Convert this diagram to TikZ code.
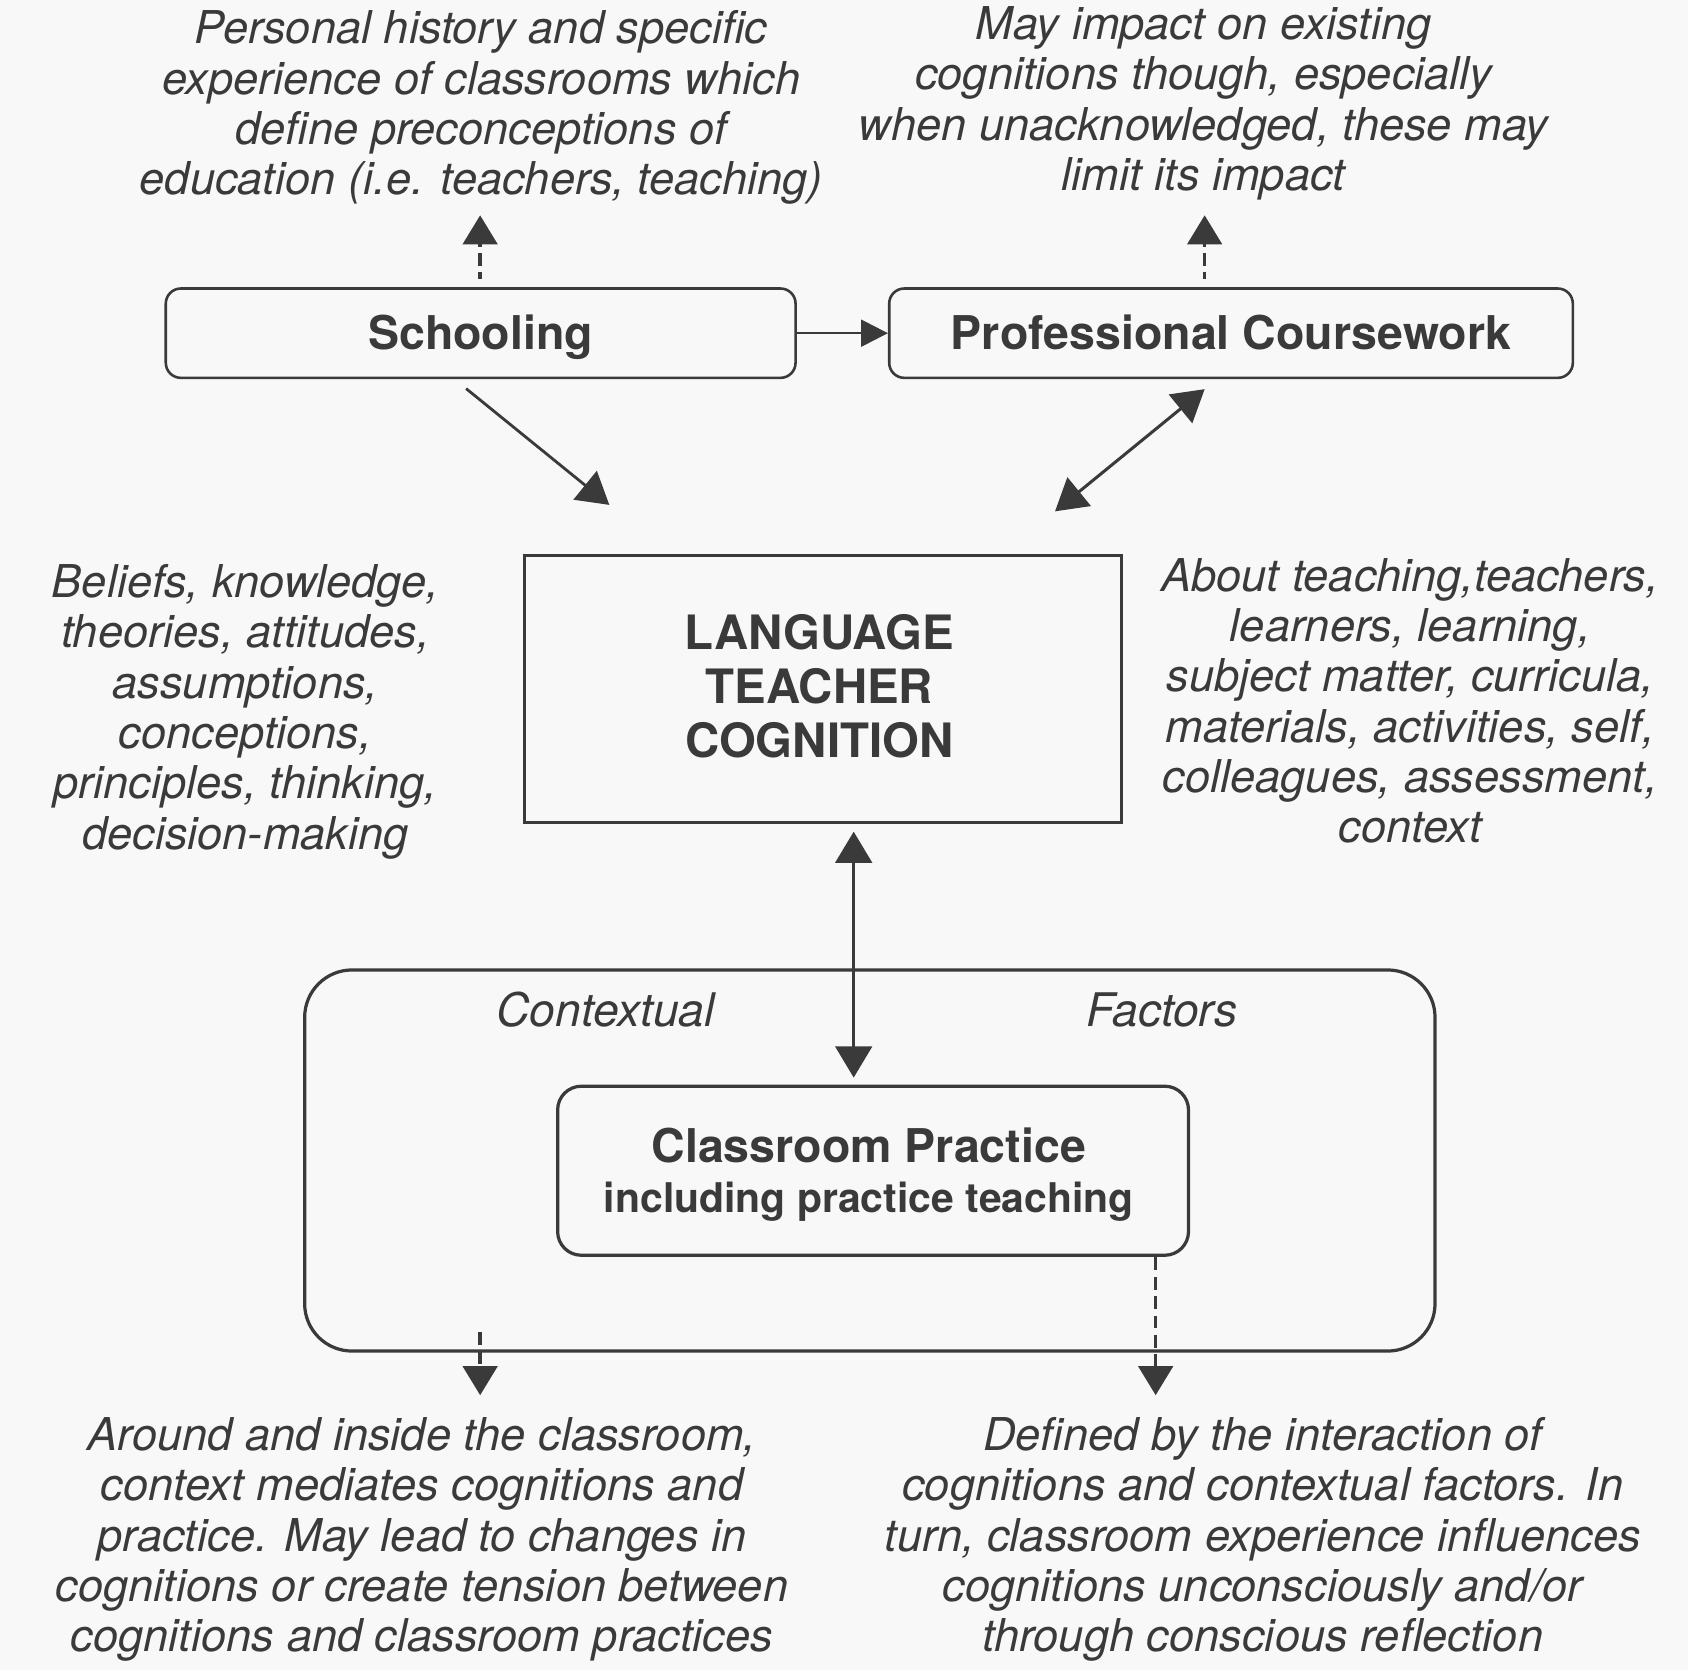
\documentclass[tikz,border=0pt]{standalone}
\usepackage{fontspec}
\setmainfont{TeX Gyre Heros}
\usetikzlibrary{arrows.meta}
\definecolor{ink}{HTML}{3A3A3A}
\definecolor{bgc}{HTML}{F8F8F8}
\begin{document}
\begin{tikzpicture}[x=0.5pt,y=-0.5pt,
  box/.style={draw=ink, line width=1.2pt, rounded corners=7pt, inner sep=0pt, text=ink,
    font=\bfseries\fontsize{21.6}{23}\selectfont},
  itxt/.style={text=ink, align=center, inner sep=0pt, font=\itshape\fontsize{21}{23.4}\selectfont},
  arrbig/.style={draw=ink, line width=1.3pt, -{Triangle[length=14.5pt,width=17pt]}},
  arrboth/.style={draw=ink, line width=1.4pt, {Triangle[length=14.5pt,width=17pt]}-{Triangle[length=14.5pt,width=17pt]}},
  arrsmall/.style={draw=ink, line width=1.2pt, -{Triangle[length=12.5pt,width=12.5pt]}},
  darr/.style={draw=ink, line width=1.6pt, dash pattern=on 6pt off 3pt, -{Triangle[length=13.5pt,width=16pt]}}
]
\fill[bgc] (0,0) rectangle (1568,1551);
\useasboundingbox (0,0) rectangle (1568,1551);

% boxes
\node[box, minimum width=292.5pt, minimum height=41.5pt, text height=19.6pt, text depth=4.4pt] (school) at (446.5,309.5) {Schooling};
\node[box, minimum width=317.5pt, minimum height=41.5pt, text height=19.6pt, text depth=4.4pt] (prof) at (1143.5,309.5) {Professional Coursework};
\node[box, rounded corners=0pt, line width=1.5pt, minimum width=277.5pt, minimum height=124pt] (ltc) at (764.5,640) {};
\node[text=ink, inner sep=0pt, align=center, font=\bfseries\fontsize{22}{25}\selectfont] (ltcT) at (761,637.5) {LANGUAGE\\TEACHER\\COGNITION};
\node[draw=ink, line width=1.5pt, rounded corners=22pt, minimum width=525pt, minimum height=177pt, inner sep=0pt] (ctx) at (808,1078) {};
\node[box, line width=1.5pt, rounded corners=11pt, minimum width=293pt, minimum height=78.5pt] (cls) at (811,1087.5) {};
\node[text=ink, inner sep=0pt, align=center, font=\bfseries\fontsize{21.6}{23}\selectfont] (clsT) at (807,1091)
  {Classroom Practice\\{\fontsize{19}{23}\selectfont including practice teaching}};

% labels
\node[itxt] (tl) at (447,100) {Personal history and specific\\experience of classrooms which\\define preconceptions of\\education (i.e. teachers, teaching)};
\node[itxt] (tr) at (1118,96) {May impact on existing\\cognitions though, especially\\when unacknowledged, these may\\limit its impact};
\node[itxt] (lt) at (228,661) {Beliefs, knowledge,\\theories, attitudes,\\assumptions,\\conceptions,\\principles, thinking,\\decision-making};
\node[itxt] (rt) at (1310,651) {About teaching,teachers,\\learners, learning,\\subject matter, curricula,\\materials, activities, self,\\colleagues, assessment,\\context};
\node[itxt] (bl) at (392,1430) {Around and inside the classroom,\\context mediates cognitions and\\practice. May lead to changes in\\cognitions or create tension between\\cognitions and classroom practices};
\node[itxt] (br) at (1173,1430) {Defined by the interaction of\\cognitions and contextual factors. In\\turn, classroom experience influences\\cognitions unconsciously and/or\\through conscious reflection};
\node[itxt, font=\itshape\fontsize{21.5}{24}\selectfont] (ctxA) at (562.5,938) {Contextual};
\node[itxt, font=\itshape\fontsize{21.5}{24}\selectfont] (ctxB) at (1079,938) {Factors};

% connector end points
\coordinate (d1s) at (433,361);
\coordinate (d1e) at (566,469);
\coordinate (d2a) at (1119,361.5);
\coordinate (d2b) at (980,475);
\coordinate (v1) at (793,772.5);
\coordinate (v2) at (793,1001);
\coordinate (tlS) at (446,259);
\coordinate (tlT) at (446,200);
\coordinate (trS) at (1119,259);
\coordinate (trT) at (1119,200);
\coordinate (blS) at (446,1237);
\coordinate (blT) at (446,1296);
\coordinate (brS) at (1073.5,1168);
\coordinate (brT) at (1073.5,1296);

% connectors
\draw[arrsmall] (school.east) -- (prof.west);
\draw[arrbig] (d1s) -- (d1e);
\draw[arrboth] (d2a) -- (d2b);
\draw[arrboth] (v1) -- (v2);
\draw[darr, dash phase=3pt] (tlS) -- (tlT);
\draw[darr, dash phase=3pt] (trS) -- (trT);
\draw[darr] (blS) -- (blT);
\draw[darr] (brS) -- (brT);
\end{tikzpicture}
\end{document}
